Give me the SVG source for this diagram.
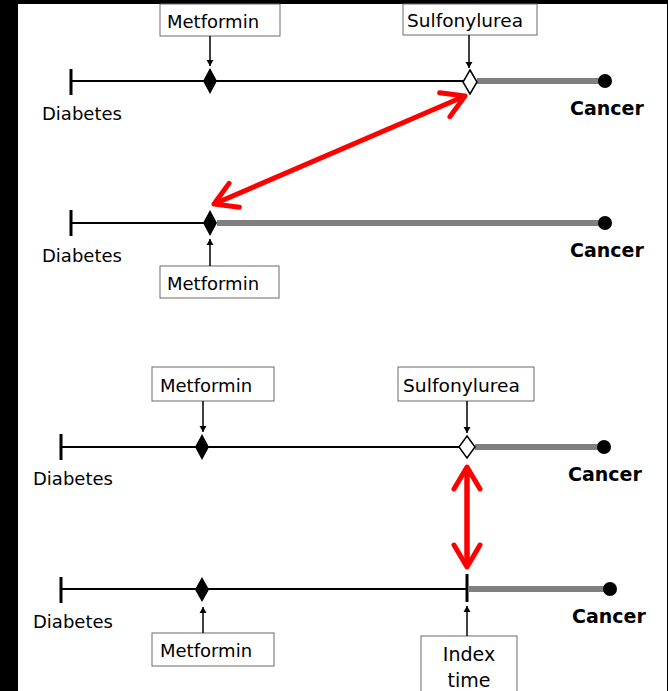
<svg xmlns="http://www.w3.org/2000/svg" width="668" height="691" viewBox="0 0 668 691">
<style>
.lbl{font-family:"DejaVu Sans",Verdana,sans-serif;font-size:18px;fill:#000}
.can{font-family:"DejaVu Sans",Verdana,sans-serif;font-size:19px;font-weight:bold;fill:#000}
.box{fill:#fff;stroke:#6a6a6a;stroke-width:1}
.tl{stroke:#000;stroke-width:2;fill:none}
.tick{stroke:#000;stroke-width:3}
.gray{stroke:#7f7f7f;stroke-width:6}
.ptr{stroke:#000;stroke-width:1.5;fill:none;marker-end:url(#bh)}
.red{stroke:#f00;stroke-width:5;fill:none;marker-start:url(#rh);marker-end:url(#rh)}
.fd{fill:#000}
.od{fill:#fff;stroke:#000;stroke-width:1.5}
</style>
<defs>
<marker id="bh" markerUnits="userSpaceOnUse" orient="auto" viewBox="-10 -6 12 12" refX="0" refY="0" markerWidth="12" markerHeight="12" overflow="visible">
<path d="M-6,-3.5 L0,0 L-6,3.5 Z" fill="#000"/>
</marker>
<marker id="rh" markerUnits="userSpaceOnUse" orient="auto-start-reverse" viewBox="-30 -20 40 40" refX="0" refY="0" markerWidth="40" markerHeight="40" overflow="visible">
<path d="M-22,-13 L0,0 L-22,13" fill="none" stroke="#f00" stroke-width="5" stroke-linecap="round" stroke-linejoin="round"/>
</marker>
</defs>
<rect x="0" y="0" width="668" height="691" fill="#000"/>
<rect x="18" y="4" width="649" height="687" fill="#fff"/>

<g id="panel1">
<line class="tick" x1="71" y1="69" x2="71" y2="95"/>
<line class="tl" x1="71" y1="81" x2="464" y2="81"/>
<line class="gray" x1="477" y1="81" x2="605" y2="81"/>
<circle cx="605" cy="81" r="7" fill="#000"/>
<text class="lbl" x="42" y="120">Diabetes</text>
<text class="can" x="570" y="115">Cancer</text>
</g>
<g id="p1-metformin">
<rect class="box" x="160" y="4" width="120" height="32"/>
<text class="lbl" x="167" y="28">Metformin</text>
<polygon class="fd" points="210,68 217,81 210,94 203,81"/>
</g>
<g id="p1-sulfonylurea">
<rect class="box" x="403" y="4" width="134" height="31"/>
<text class="lbl" x="407" y="27" textLength="116" lengthAdjust="spacingAndGlyphs">Sulfonylurea</text>
<polygon class="od" points="470,70 477,82 470,94 463,82"/>
</g>

<g id="panel2">
<line class="tick" x1="71" y1="210" x2="71" y2="236"/>
<line class="tl" x1="71" y1="223" x2="204" y2="223"/>
<line class="gray" x1="217" y1="223" x2="605" y2="223"/>
<circle cx="605" cy="223" r="7" fill="#000"/>
<text class="lbl" x="42" y="262">Diabetes</text>
<text class="can" x="570" y="257">Cancer</text>
</g>
<g id="p2-metformin">
<rect class="box" x="160" y="266" width="119" height="32"/>
<text class="lbl" x="167" y="290">Metformin</text>
<polygon class="fd" points="210,210 217,223 210,236 203,223"/>
</g>

<g id="panel3">
<line class="tick" x1="61" y1="434" x2="61" y2="460"/>
<line class="tl" x1="61" y1="447" x2="460" y2="447"/>
<line class="gray" x1="475" y1="447" x2="604" y2="447"/>
<circle cx="604" cy="447" r="7" fill="#000"/>
<text class="lbl" x="33" y="485">Diabetes</text>
<text class="can" x="568" y="481">Cancer</text>
</g>
<g id="p3-metformin">
<rect class="box" x="152" y="367" width="122" height="34"/>
<text class="lbl" x="160" y="392">Metformin</text>
<polygon class="fd" points="202,434 209,447 202,460 195,447"/>
</g>
<g id="p3-sulfonylurea">
<rect class="box" x="398" y="367" width="136" height="34"/>
<text class="lbl" x="403" y="392" textLength="117" lengthAdjust="spacingAndGlyphs">Sulfonylurea</text>
<polygon class="od" points="467,436 475,447 467,458 459,447"/>
</g>

<g id="panel4">
<line class="tick" x1="61" y1="577" x2="61" y2="603"/>
<line class="tl" x1="61" y1="589" x2="467" y2="589"/>
<line class="gray" x1="469" y1="589" x2="610" y2="589"/>
<circle cx="610" cy="589" r="7" fill="#000"/>
<line class="tick" x1="467" y1="574" x2="467" y2="602"/>
<text class="lbl" x="33" y="628">Diabetes</text>
<text class="can" x="572" y="623">Cancer</text>
</g>
<g id="p4-metformin">
<rect class="box" x="152" y="633" width="122" height="33"/>
<text class="lbl" x="160" y="657">Metformin</text>
<polygon class="fd" points="202,577 209,589.5 202,602 195,589.5"/>
</g>
<g id="p4-index">
<rect class="box" x="421" y="636" width="96" height="70"/>
<text class="lbl" x="469" y="661" text-anchor="middle" style="font-size:19px">Index</text>
<text class="lbl" x="469" y="687" text-anchor="middle" style="font-size:19px">time</text>
</g>

<g id="connectors">
<line class="ptr" x1="210" y1="36" x2="210" y2="66"/>
<line class="ptr" x1="469" y1="35" x2="469" y2="68"/>
<line class="ptr" x1="210" y1="266" x2="210" y2="239"/>
<line class="ptr" x1="203" y1="401" x2="203" y2="432"/>
<line class="ptr" x1="467" y1="401" x2="467" y2="433"/>
<line class="ptr" x1="203" y1="633" x2="203" y2="607"/>
<line class="ptr" x1="467" y1="636" x2="467" y2="606"/>
<line class="red" x1="214" y1="204" x2="465" y2="96"/>
<line class="red" x1="467" y1="467" x2="467" y2="567" style="stroke-width:5.5"/>
</g>
</svg>
